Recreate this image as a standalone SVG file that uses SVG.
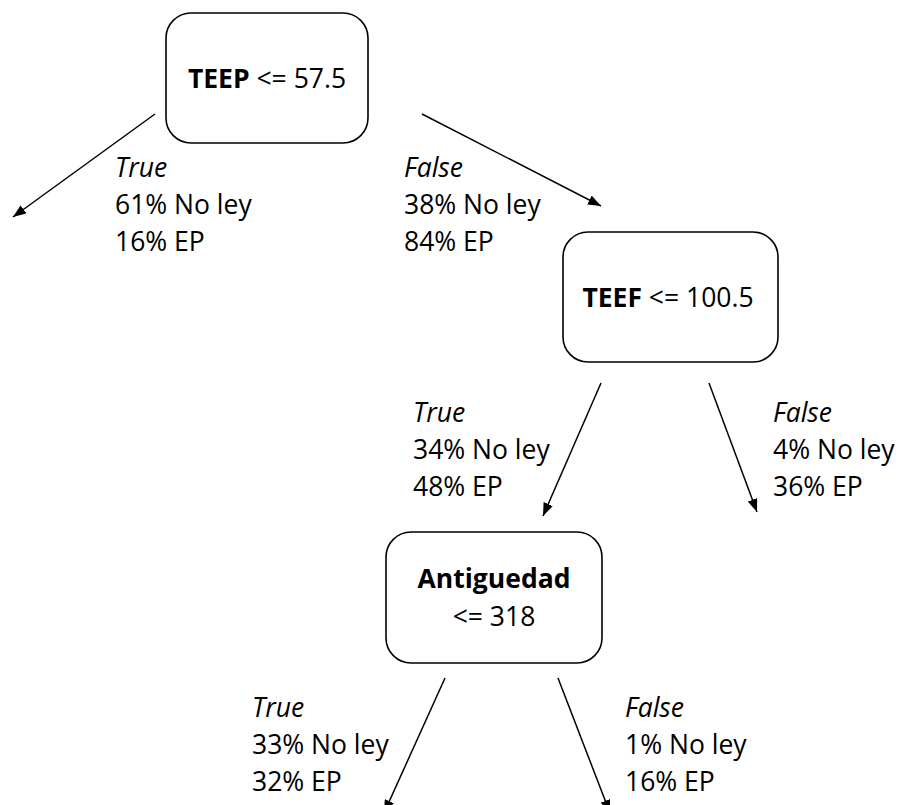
<svg xmlns="http://www.w3.org/2000/svg" width="914" height="805" viewBox="0 0 914 805">
<style>
.box{fill:#fff;stroke:#000;stroke-width:1.6}
text{font-family:"Open Sans","Liberation Sans",sans-serif;font-size:26.5px;fill:#000}
.b{font-weight:bold}
.i{font-style:italic}
.c{text-anchor:middle}
.edge{stroke:#000;stroke-width:1.5;fill:none;marker-end:url(#arr)}
</style>
<defs>
<marker id="arr" viewBox="0 0 13 10" refX="13" refY="5" markerWidth="13" markerHeight="10" markerUnits="userSpaceOnUse" orient="auto">
<path d="M0,0 L13,5 L0,10 z" fill="#000"/>
</marker>
</defs>
<rect width="914" height="805" fill="#fff"/>
<g id="connectors">
<line class="edge" x1="155" y1="114" x2="13" y2="217"/>
<line class="edge" x1="422" y1="114" x2="601" y2="206"/>
<line class="edge" x1="601" y1="383" x2="543" y2="516"/>
<line class="edge" x1="709" y1="383" x2="757" y2="512"/>
<line class="edge" x1="445" y1="678" x2="384" y2="813"/>
<line class="edge" x1="558" y1="678" x2="610" y2="813"/>
</g>
<g id="labels">
<text x="115" y="177"><tspan class="i">True</tspan><tspan x="115" y="214">61% No ley</tspan><tspan x="115" y="251">16% EP</tspan></text>
<text x="404" y="177"><tspan class="i">False</tspan><tspan x="404" y="214">38% No ley</tspan><tspan x="404" y="251">84% EP</tspan></text>
<text x="413" y="422"><tspan class="i">True</tspan><tspan x="413" y="459">34% No ley</tspan><tspan x="413" y="496">48% EP</tspan></text>
<text x="773" y="422"><tspan class="i">False</tspan><tspan x="773" y="459">4% No ley</tspan><tspan x="773" y="496">36% EP</tspan></text>
<text x="252" y="717"><tspan class="i">True</tspan><tspan x="252" y="754">33% No ley</tspan><tspan x="252" y="791">32% EP</tspan></text>
<text x="625" y="717"><tspan class="i">False</tspan><tspan x="625" y="754">1% No ley</tspan><tspan x="625" y="791">16% EP</tspan></text>
</g>
<g id="node-teep">
<rect class="box" x="166" y="13" width="202" height="130" rx="25"/>
<text class="c" x="267" y="88"><tspan class="b">TEEP</tspan> &lt;= 57.5</text>
</g>
<g id="node-teef">
<rect class="box" x="563" y="232" width="215" height="130" rx="25"/>
<text class="c" x="668" y="307"><tspan class="b">TEEF</tspan> &lt;= 100.5</text>
</g>
<g id="node-antiguedad">
<rect class="box" x="386" y="532" width="216" height="131" rx="25"/>
<text class="c b" x="494" y="588">Antiguedad</text>
<text class="c" x="494" y="626">&lt;= 318</text>
</g>
</svg>
